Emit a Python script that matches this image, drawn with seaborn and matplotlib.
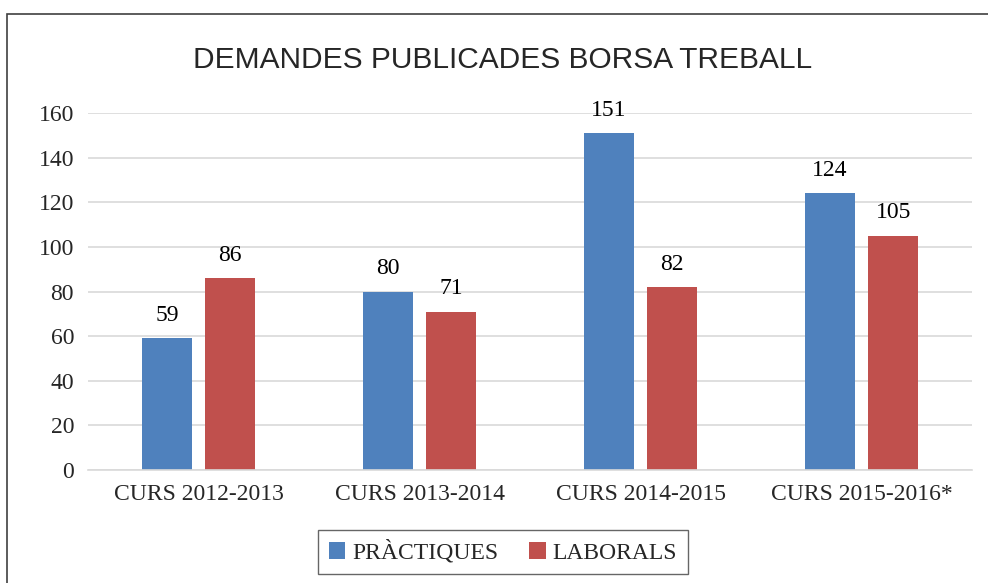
import pandas as pd
import seaborn as sns
import matplotlib.pyplot as plt
from matplotlib.patches import Rectangle

# dades llegides del gràfic
cursos = ['CURS 2012-2013', 'CURS 2013-2014', 'CURS 2014-2015', 'CURS 2015-2016*']
practiques = [59, 80, 151, 124]
laborals = [86, 71, 82, 105]
series = ['PRÀCTIQUES', 'LABORALS']
colors = ['#4F81BD', '#C0504D']

df = pd.DataFrame({
    'curs': cursos * 2,
    'tipus': [series[0]] * len(cursos) + [series[1]] * len(cursos),
    'valor': practiques + laborals,
})

sns.set_style('white')
plt.rcParams['font.family'] = ['Liberation Serif', 'DejaVu Serif']

fig = plt.figure(figsize=(9.88, 5.83), dpi=100)
ax = fig.add_axes([0.089, 0.194, 0.895, 0.612])

sns.barplot(data=df, x='curs', y='valor', hue='tipus', order=cursos,
            hue_order=series, palette=colors, width=0.57, gap=0.2,
            saturation=1, linewidth=0, ax=ax, legend=True)

for cont in ax.containers:
    ax.bar_label(cont, padding=9, fontsize=17, color='black')

ax.set_ylim(0, 160)
ax.set_yticks(range(0, 161, 20))
ax.yaxis.grid(True, color='#D9D9D9', linewidth=1.2)
ax.set_axisbelow(True)
for s in ['left', 'right', 'top']:
    ax.spines[s].set_visible(False)
ax.spines['bottom'].set_color('#D9D9D9')
ax.spines['bottom'].set_linewidth(1.2)
ax.tick_params(axis='both', length=0, labelsize=17, pad=10)
ax.set_xlabel('')
ax.set_ylabel('')

fig.text(0.509, 0.897, 'DEMANDES PUBLICADES BORSA TREBALL', ha='center', va='center',
         fontsize=21.5, family=['Liberation Sans', 'DejaVu Sans'])

ax.legend(loc='center', bbox_to_anchor=(0.509, 0.053), bbox_transform=fig.transFigure,
          ncol=2, frameon=True, fancybox=False, edgecolor='#404040', fontsize=17,
          handlelength=0.7, handleheight=0.7, columnspacing=1.3, borderpad=0.45,
          handletextpad=0.3)
ax.get_legend().get_frame().set_linewidth(1.0)

# marc de la figura
fig.patches.append(Rectangle((7 / 988, -0.1), 1.2, 1.1 - 14 / 583, transform=fig.transFigure,
                             fill=False, edgecolor='#404040', linewidth=1.2))

fig.savefig('out.png', dpi=100)
